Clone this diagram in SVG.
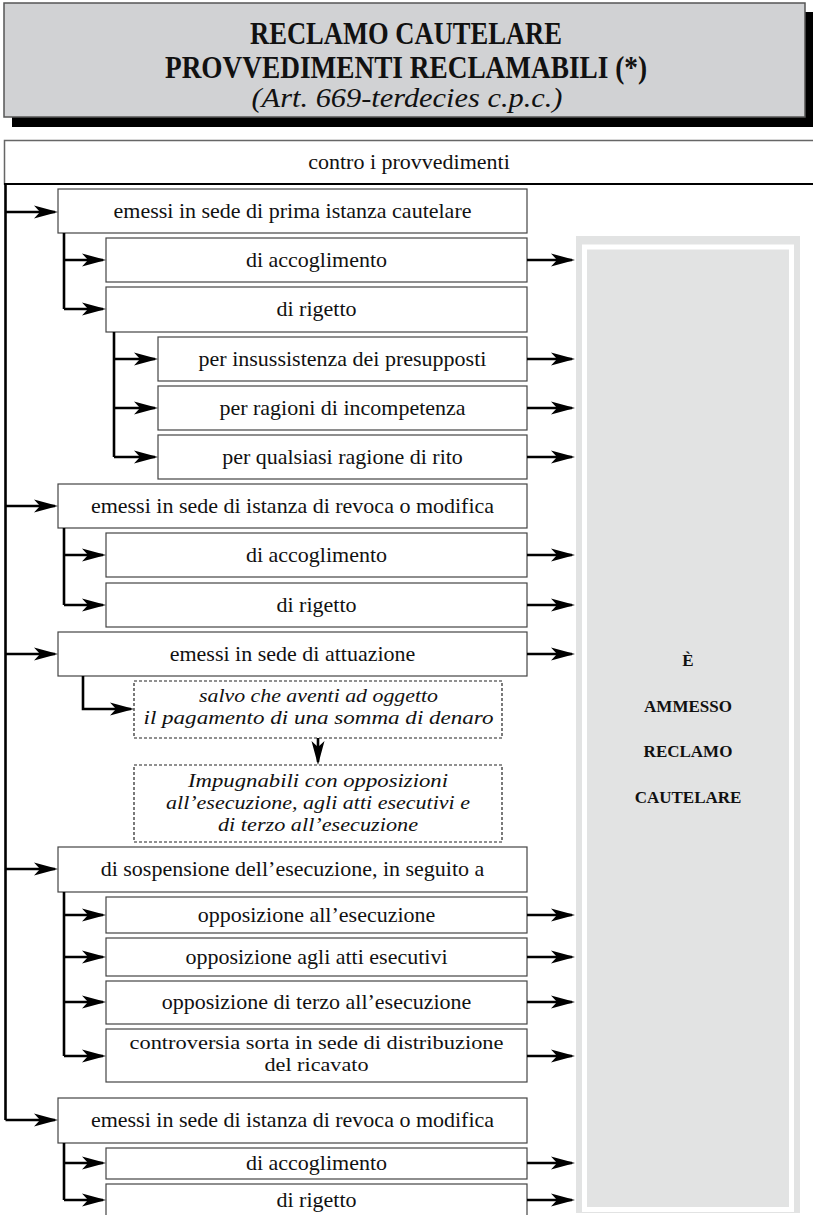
<svg xmlns="http://www.w3.org/2000/svg" width="813" height="1215" viewBox="0 0 813 1215">
<style>
text{font-family:"Liberation Serif","Times New Roman",serif;fill:#111;}
.t{font-size:22px;text-anchor:middle;}
.t2{font-size:19.5px;text-anchor:middle;}
.it{font-size:19.5px;font-style:italic;text-anchor:middle;}
.box{fill:#fff;stroke:#444;stroke-width:1.2;}
.dash{fill:#fff;stroke:#222;stroke-width:1.2;stroke-dasharray:3 2;}
.ln{fill:none;stroke:#000;stroke-width:2.6;}
.ar{fill:none;stroke:#000;stroke-width:2.6;marker-end:url(#ah);}
.pt{font-size:17px;font-weight:bold;text-anchor:middle;}
</style>
<defs>
<marker id="ah" viewBox="-22 -8 26 16" refX="0" refY="0" markerWidth="26" markerHeight="16" markerUnits="userSpaceOnUse" orient="auto">
<path d="M3,0 L-21,-6.5 L-15,0 L-21,6.5 Z" fill="#000"/>
</marker>
</defs>

<g id="n-title">
<rect x="12" y="12" width="801" height="115" fill="#000"/>
<rect x="4" y="3" width="801" height="114" fill="#d1d2d4" stroke="#555" stroke-width="1.5"/>
<text x="406" y="44" font-size="31" font-weight="bold" text-anchor="middle" textLength="312" lengthAdjust="spacingAndGlyphs">RECLAMO CAUTELARE</text>
<text x="406" y="78" font-size="31" font-weight="bold" text-anchor="middle" textLength="482" lengthAdjust="spacingAndGlyphs">PROVVEDIMENTI RECLAMABILI (*)</text>
<text x="407" y="107" font-size="28" font-style="italic" text-anchor="middle" textLength="311" lengthAdjust="spacingAndGlyphs">(Art. 669-terdecies c.p.c.)</text>
</g>

<g id="n-contro">
<rect x="4.5" y="140.5" width="820" height="43.5" fill="#fff" stroke="#666" stroke-width="1.5"/>
<line x1="4" y1="184" x2="813" y2="184" stroke="#000" stroke-width="2"/>
<text class="t" x="409" y="169">contro i provvedimenti</text>
</g>

<g id="n-panel">
<rect x="576" y="236" width="224" height="977" fill="#e2e3e3"/>
<rect x="584.5" y="247" width="207" height="962.5" fill="#e2e3e3" stroke="#fff" stroke-width="5"/>
<text class="pt" x="688" y="666">È</text>
<text class="pt" x="688" y="712">AMMESSO</text>
<text class="pt" x="688" y="757">RECLAMO</text>
<text class="pt" x="688" y="803">CAUTELARE</text>
</g>

<g id="n-prima"><rect class="box" x="58" y="189" width="469" height="44"/><text class="t" x="292.5" y="218">emessi in sede di prima istanza cautelare</text></g>
<g id="n-acc1"><rect class="box" x="106" y="238" width="421" height="44"/><text class="t" x="316.5" y="267">di accoglimento</text></g>
<g id="n-rig1"><rect class="box" x="106" y="287" width="421" height="45"/><text class="t" x="316.5" y="316">di rigetto</text></g>
<g id="n-ins"><rect class="box" x="158" y="337" width="369" height="44"/><text class="t" x="342.5" y="366">per insussistenza dei presupposti</text></g>
<g id="n-rag"><rect class="box" x="158" y="386" width="369" height="44"/><text class="t" x="342.5" y="415">per ragioni di incompetenza</text></g>
<g id="n-qual"><rect class="box" x="158" y="435" width="369" height="44"/><text class="t" x="342.5" y="464">per qualsiasi ragione di rito</text></g>
<g id="n-revoca1"><rect class="box" x="58" y="484" width="469" height="44"/><text class="t" x="292.5" y="513">emessi in sede di istanza di revoca o modifica</text></g>
<g id="n-acc2"><rect class="box" x="106" y="533" width="421" height="44"/><text class="t" x="316.5" y="562">di accoglimento</text></g>
<g id="n-rig2"><rect class="box" x="106" y="583" width="421" height="44"/><text class="t" x="316.5" y="612">di rigetto</text></g>
<g id="n-attu"><rect class="box" x="58" y="632" width="469" height="44"/><text class="t" x="292.5" y="661">emessi in sede di attuazione</text></g>
<g id="n-salvo"><rect class="dash" x="134" y="681" width="368" height="57"/>
<text class="it" x="318.5" y="702" textLength="239" lengthAdjust="spacingAndGlyphs">salvo che aventi ad oggetto</text>
<text class="it" x="318.5" y="724" textLength="350" lengthAdjust="spacingAndGlyphs">il pagamento di una somma di denaro</text></g>
<g id="n-impug"><rect class="dash" x="134" y="765" width="368" height="77"/>
<text class="it" x="318" y="787" textLength="260" lengthAdjust="spacingAndGlyphs">Impugnabili con opposizioni</text>
<text class="it" x="318" y="809" textLength="304" lengthAdjust="spacingAndGlyphs">all’esecuzione, agli atti esecutivi e</text>
<text class="it" x="318" y="831" textLength="200" lengthAdjust="spacingAndGlyphs">di terzo all’esecuzione</text></g>
<g id="n-sosp"><rect class="box" x="58" y="847" width="469" height="45"/><text class="t" x="292.5" y="876">di sospensione dell’esecuzione, in seguito a</text></g>
<g id="n-opp1"><rect class="box" x="106" y="897" width="421" height="36"/><text class="t" x="316.5" y="922">opposizione all’esecuzione</text></g>
<g id="n-opp2"><rect class="box" x="106" y="938" width="421" height="38"/><text class="t" x="316.5" y="964">opposizione agli atti esecutivi</text></g>
<g id="n-opp3"><rect class="box" x="106" y="981" width="421" height="43"/><text class="t" x="316.5" y="1009">opposizione di terzo all’esecuzione</text></g>
<g id="n-contr"><rect class="box" x="106" y="1029" width="421" height="53"/>
<text class="t2" x="316.5" y="1049" textLength="374" lengthAdjust="spacingAndGlyphs">controversia sorta in sede di distribuzione</text>
<text class="t2" x="316.5" y="1071" textLength="104" lengthAdjust="spacingAndGlyphs">del ricavato</text></g>
<g id="n-revoca2"><rect class="box" x="58" y="1098" width="469" height="45"/><text class="t" x="292.5" y="1127">emessi in sede di istanza di revoca o modifica</text></g>
<g id="n-acc3"><rect class="box" x="106" y="1148" width="421" height="31"/><text class="t" x="316.5" y="1170">di accoglimento</text></g>
<g id="n-rig3"><rect class="box" x="106" y="1184" width="421" height="40"/><text class="t" x="316.5" y="1207">di rigetto</text></g>

<g id="connectors">
<path class="ln" d="M5.5,184 V1120"/>
<path class="ar" d="M5.5,212 H55"/>
<path class="ar" d="M5.5,506 H55"/>
<path class="ar" d="M5.5,654 H55"/>
<path class="ar" d="M5.5,869 H55"/>
<path class="ar" d="M5.5,1120 H55"/>

<path class="ln" d="M64,233 V309"/>
<path class="ar" d="M64,260 H103"/>
<path class="ar" d="M64,309 H103"/>
<path class="ln" d="M114,332 V457"/>
<path class="ar" d="M114,359 H155"/>
<path class="ar" d="M114,408 H155"/>
<path class="ar" d="M114,457 H155"/>

<path class="ln" d="M64,528 V605"/>
<path class="ar" d="M64,555 H103"/>
<path class="ar" d="M64,605 H103"/>

<path class="ar" d="M83,676 V709 H131"/>
<path class="ar" d="M318,738 V762"/>

<path class="ln" d="M64,892 V1056"/>
<path class="ar" d="M64,915 H103"/>
<path class="ar" d="M64,957 H103"/>
<path class="ar" d="M64,1002 H103"/>
<path class="ar" d="M64,1056 H103"/>

<path class="ln" d="M64,1143 V1200"/>
<path class="ar" d="M64,1163 H103"/>
<path class="ar" d="M64,1200 H103"/>

<path class="ar" d="M527,260 H572"/>
<path class="ar" d="M527,359 H572"/>
<path class="ar" d="M527,408 H572"/>
<path class="ar" d="M527,457 H572"/>
<path class="ar" d="M527,555 H572"/>
<path class="ar" d="M527,605 H572"/>
<path class="ar" d="M527,654 H572"/>
<path class="ar" d="M527,915 H572"/>
<path class="ar" d="M527,957 H572"/>
<path class="ar" d="M527,1002 H572"/>
<path class="ar" d="M527,1056 H572"/>
<path class="ar" d="M527,1163 H572"/>
<path class="ar" d="M527,1200 H572"/>
</g>
</svg>
